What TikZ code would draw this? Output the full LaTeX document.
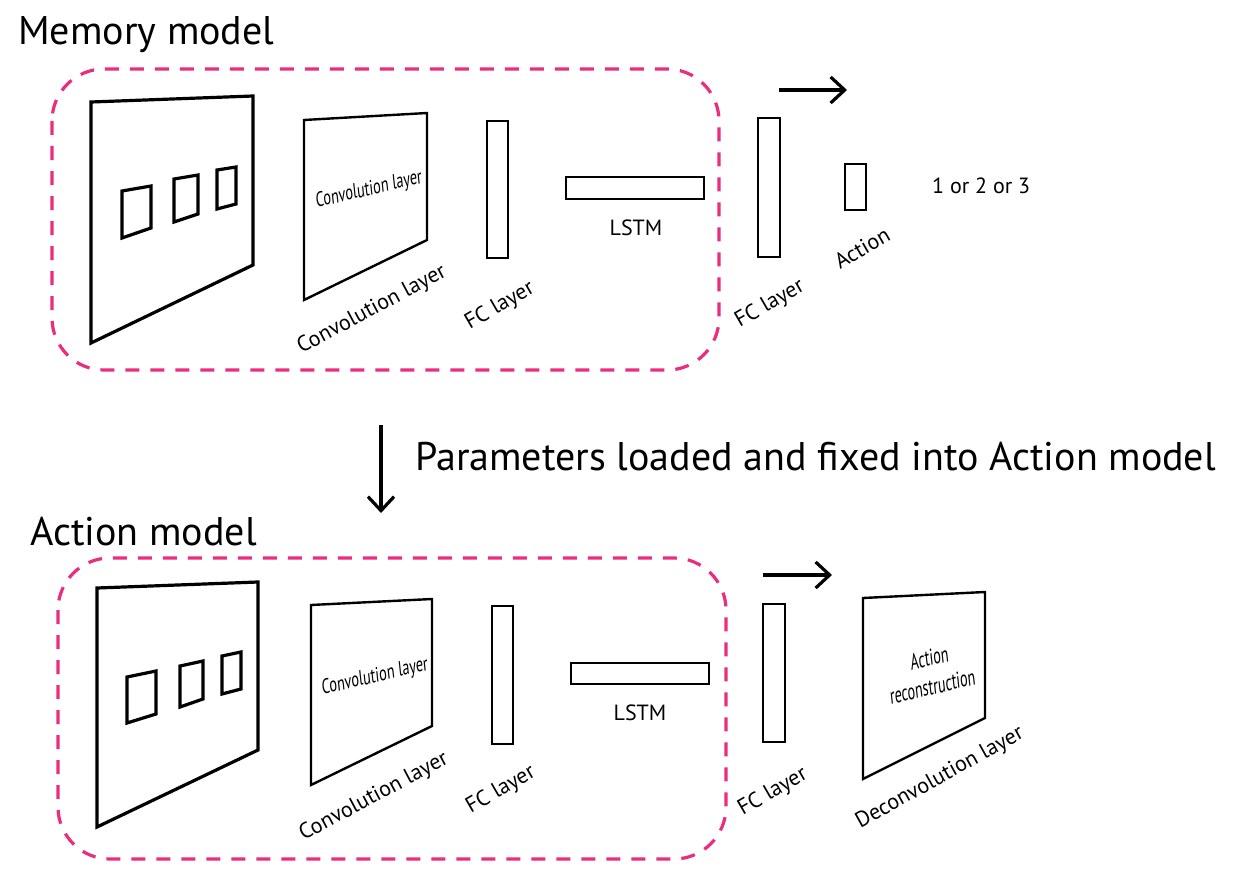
\documentclass[tikz,border=0pt]{standalone}
\usepackage{fontspec}
\setmainfont{PT Sans}
\usetikzlibrary{arrows.meta}
\definecolor{pinkd}{RGB}{234,46,127}
\tikzset{
 dashbox/.style={draw=pinkd, line width=3.2pt, dash pattern=on 14pt off 11pt, rounded corners=52pt},
 bigpanel/.style={draw, line width=3.2pt, line join=miter},
 panel/.style={draw, line width=2.4pt, line join=miter},
 sq/.style={draw, line width=3.2pt, line join=miter},
 bar/.style={draw, line width=1.6pt},
 flow/.style={line width=3.2pt, -{Straight Barb[length=14pt,width=26pt,line width=3.2pt]}},
 head/.style={font=\fontsize{40}{46}\selectfont, anchor=base west, inner sep=0pt},
 lbl/.style={font=\fontsize{22}{26}\selectfont, inner sep=0pt},
 inner/.style={font=\fontsize{21}{24}\selectfont, inner sep=0pt, xscale=0.68}
}
\begin{document}
\begin{tikzpicture}[x=1pt,y=-1pt]
\useasboundingbox[fill=white] (0,0) rectangle (1234,880);

% ---------- headings ----------
\node[head] (memhead) at (18,45) {Memory model};
\node[head] (param) at (415,470) {Parameters loaded and fixed into Action model};
\node[head] (acthead) at (30,545) {Action model};

% ---------- top: memory model ----------
\draw[dashbox] (52,69) rectangle (719,370);

\draw[bigpanel] (91,102) -- (253,96) -- (253,265) -- (91,343) -- cycle;
\draw[sq] (122,191) -- (151,186) -- (151,228) -- (122,238) -- cycle;
\draw[sq] (174,179) -- (198,175) -- (198,214) -- (174,222) -- cycle;
\draw[sq] (217,170) -- (236,167) -- (236,204) -- (217,209) -- cycle;

\draw[panel] (304,120) -- (427,113) -- (427,240) -- (304,300) -- cycle;
\node[inner, rotate=9] (convin1) at (369,190) {Convolution layer};
\node[lbl, rotate=28] (convl1) at (372,310) {Convolution layer};

\node[bar, minimum width=21pt, minimum height=137pt, inner sep=0pt] (fc1) at (497.5,189.5) {};
\node[lbl, rotate=30] (fcl1) at (500,306) {FC layer};

\node[bar, minimum width=138pt, minimum height=22pt, inner sep=0pt] (lstm1) at (635,188) {};
\node[lbl, anchor=base] (lstml1) at (636,235) {LSTM};

\coordinate (a1s) at (779,90);
\coordinate (a1e) at (847,90);
\draw[flow] (a1s) -- (a1e);

\node[bar, minimum width=22pt, minimum height=139pt, inner sep=0pt] (fc2) at (769,187.5) {};
\node[lbl, rotate=30] (fcl2) at (770,304) {FC layer};

\node[bar, minimum width=21pt, minimum height=46pt, inner sep=0pt] (act) at (855.5,187) {};
\node[lbl, rotate=30] (actl) at (862,248) {Action};

\node[lbl, anchor=base west] (out) at (932,193) {1 or 2 or 3};

% ---------- middle arrow ----------
\coordinate (ds) at (381,425);
\coordinate (de) at (381,513);
\draw[flow] (ds) -- (de);

% ---------- bottom: action model ----------
\draw[dashbox] (58,558) rectangle (726,859);

\draw[bigpanel] (97,588) -- (258,582) -- (258,750) -- (97,827) -- cycle;
\draw[sq] (127,677) -- (156,671) -- (156,714) -- (127,723) -- cycle;
\draw[sq] (180,666) -- (203,661) -- (203,699) -- (180,707) -- cycle;
\draw[sq] (222,656) -- (241,652) -- (241,689) -- (222,694) -- cycle;

\draw[panel] (311,605) -- (432,599) -- (432,726) -- (311,785) -- cycle;
\node[inner, rotate=9] (convin2) at (375,677) {Convolution layer};
\node[lbl, rotate=28] (convl2) at (374,797) {Convolution layer};

\node[bar, minimum width=21pt, minimum height=138pt, inner sep=0pt] (fc3) at (502.5,675) {};
\node[lbl, rotate=30] (fcl3) at (501,790) {FC layer};

\node[bar, minimum width=138pt, minimum height=21pt, inner sep=0pt] (lstm2) at (640,673.5) {};
\node[lbl, anchor=base] (lstml2) at (640,720) {LSTM};

\coordinate (a2s) at (763,575);
\coordinate (a2e) at (832,575);
\draw[flow] (a2s) -- (a2e);

\node[bar, minimum width=22pt, minimum height=138pt, inner sep=0pt] (fc4) at (774,673) {};
\node[lbl, rotate=30] (fcl4) at (773,792) {FC layer};

\draw[panel] (863,598) -- (985,592) -- (985,718) -- (863,779) -- cycle;
\node[inner, rotate=9, align=center, xscale=0.9, font=\fontsize{23}{29}\selectfont] (decin) at (931,672) {Action\\reconstruction};
\node[lbl, rotate=29] (decl) at (940,778) {Deconvolution layer};
\end{tikzpicture}
\end{document}
